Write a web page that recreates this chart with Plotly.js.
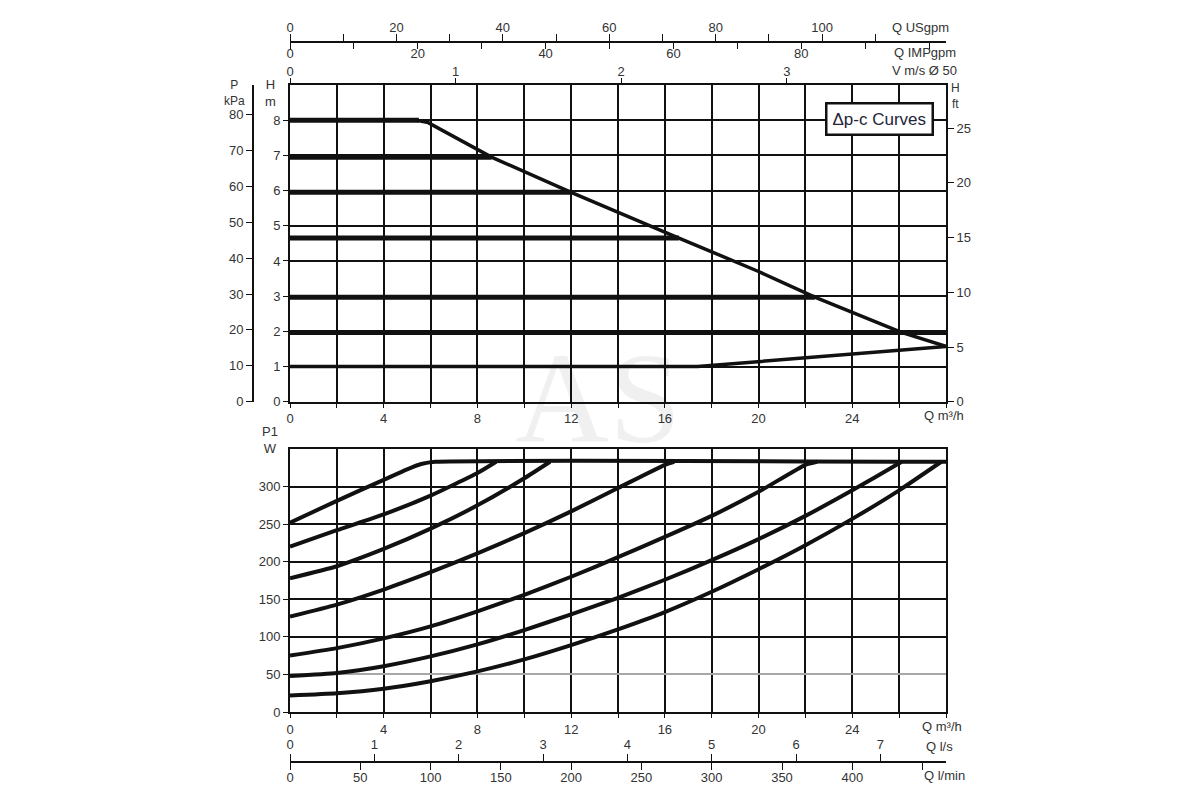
<!DOCTYPE html>
<html>
<head>
<meta charset="utf-8">
<script src="https://cdn.plot.ly/plotly-3.0.1.min.js"></script>
<style>
  body { margin: 0; background: #fff; }
  #chart { width: 1200px; height: 800px; }
</style>
</head>
<body>
<div id="chart"></div>
<script>
// Q axis (m3/h), shared by both panels
var Q_TICKS = [0, 2, 4, 6, 8, 10, 12, 14, 16, 18, 20, 22, 24, 26, 28];

// upper panel: constant delta-p lines (H m) and their end flow
var DP_LEVELS = [8.0, 6.95, 5.95, 4.65, 2.97, 1.97];
var DP_END_Q = [5.5, 8.6, 12.0, 16.6, 22.4, 28.0];
// max curve
var MAX_Q = [5.4, 5.9, 8.6, 12.0, 16.6, 20.0, 22.4, 26.1, 28.0];
var MAX_H = [8.0, 7.93, 6.95, 5.95, 4.65, 3.7, 2.97, 1.97, 1.57];
// min curve
var MIN_Q = [0, 17.4, 28.0];
var MIN_H = [1.0, 1.0, 1.57];

// lower panel: power input P1 (W)
var P1_Q = [
  [0, 2, 4, 5, 5.6, 6.2, 28],
  [0, 2, 4, 6, 8, 8.8],
  [0, 2, 4, 6, 8, 10, 11.1],
  [0, 2, 4, 6, 8, 10, 12, 14, 16, 16.4],
  [0, 2, 4, 6, 8, 10, 12, 14, 16, 18, 20, 22, 22.5],
  [0, 2, 4, 6, 8, 10, 12, 14, 16, 18, 20, 22, 24, 26, 26.1],
  [0, 2, 4, 6, 8, 10, 12, 14, 16, 18, 20, 22, 24, 26, 27.8]
];
var P1_W = [
  [252, 281, 309, 323, 330, 333, 333],
  [220, 242, 263, 288, 318, 333],
  [178, 194, 217, 244, 275, 311, 333],
  [127, 143, 163, 186, 211, 238, 267, 298, 329, 333],
  [75, 85, 98, 114, 134, 156, 180, 206, 233, 261, 293, 329, 333],
  [48, 52, 61, 74, 90, 109, 130, 152, 176, 202, 230, 261, 295, 331, 333],
  [22, 25, 31, 41, 54, 70, 89, 110, 133, 160, 190, 222, 257, 295, 333]
];

// unit scales
var USGPM = [0, 20, 40, 60, 80, 100];
var USGPM_MINOR = [10, 30, 50, 70, 90, 110];
var IMPGPM = [0, 20, 40, 60, 80];
var IMPGPM_MINOR = [10, 30, 50, 70, 90, 100];
var VEL = [0, 1, 2, 3];
var KPA = [0, 10, 20, 30, 40, 50, 60, 70, 80];
var FT = [0, 5, 10, 15, 20, 25];
var H_M = [0, 1, 2, 3, 4, 5, 6, 7, 8];
var P1_TICKS = [0, 50, 100, 150, 200, 250, 300];
var LPS = [0, 1, 2, 3, 4, 5, 6, 7];
var LPM = [0, 50, 100, 150, 200, 250, 300, 350, 400, 450];

var Q_MAX = 28;
var M3H_TO_USGPM = 4.40287, M3H_TO_IMPGPM = 3.66615, M3H_TO_VEL = 1 / 7.0686;
var M3H_TO_LPS = 1 / 3.6, M3H_TO_LPM = 1000 / 60;

// pixel -> paper helpers (margins l=200 r=200 t=20 b=15)
function fx(p) { return (p - 200) / 800; }
function fy(p) { return (785 - p) / 765; }

var INK = '#111';
var TXT = '#333';
var FONT = 'Liberation Sans, Arial, sans-serif';

var traces = [];
DP_LEVELS.forEach(function (h, i) {
  traces.push({ x: [0, DP_END_Q[i]], y: [h, h], mode: 'lines', xaxis: 'x', yaxis: 'y',
    line: { color: INK, width: 5 } });
});
traces.push({ x: MAX_Q, y: MAX_H, mode: 'lines', xaxis: 'x', yaxis: 'y', line: { color: INK, width: 3.5 } });
traces.push({ x: MIN_Q, y: MIN_H, mode: 'lines', xaxis: 'x', yaxis: 'y', line: { color: INK, width: 3.5 } });
P1_Q.forEach(function (q, i) {
  traces.push({ x: q, y: P1_W[i], mode: 'lines', xaxis: 'x2', yaxis: 'y2',
    line: { color: INK, width: 4, shape: 'spline', smoothing: 0.5 } });
});

// invisible copies so the extra unit scales get drawn
function ghost(xa, ya, xs, ys) {
  traces.push({ x: xs, y: ys, mode: 'lines', xaxis: xa, yaxis: ya, opacity: 0,
    line: { width: 0 }, hoverinfo: 'skip' });
}
function scaled(arr, k) { return arr.map(function (v) { return v * k; }); }
ghost('x3', 'y', scaled(MAX_Q, M3H_TO_VEL), MAX_H);
ghost('x4', 'y', scaled(MAX_Q, M3H_TO_USGPM), MAX_H);
ghost('x5', 'y', scaled(MAX_Q, M3H_TO_IMPGPM), MAX_H);
ghost('x', 'y3', MAX_Q, scaled(MAX_H, 9.80665));
ghost('x', 'y4', MAX_Q, scaled(MAX_H, 1 / 0.3048));
ghost('x2', 'y5', P1_Q[0], P1_W[0]);
ghost('x2', 'y6', P1_Q[0], P1_W[0]);
ghost('x6', 'y2', scaled(P1_Q[0], M3H_TO_LPS), P1_W[0]);
ghost('x7', 'y2', scaled(P1_Q[0], M3H_TO_LPM), P1_W[0]);

var qText = Q_TICKS.map(function (v) { return (v % 4 === 0 && v < 28) ? String(v) : ''; });
var tickFont = { family: FONT, size: 13, color: TXT };
var XDOM = [fx(290), fx(946)];

function baseX(extra) {
  var a = { domain: XDOM, range: [0, Q_MAX], tickmode: 'array', tickvals: Q_TICKS, ticktext: qText,
    showgrid: true, gridcolor: INK, gridwidth: 2, zeroline: false, showline: true, mirror: true,
    linecolor: INK, linewidth: 2, ticks: 'outside', ticklen: 4, tickcolor: INK, tickfont: tickFont,
    fixedrange: true };
  for (var k in extra) a[k] = extra[k];
  return a;
}
function scaleAxis(extra) {
  var a = { showgrid: false, zeroline: false, showline: true, linecolor: INK, linewidth: 2,
    ticks: 'outside', ticklen: 6, tickcolor: INK, tickmode: 'array', tickfont: tickFont, fixedrange: true };
  for (var k in extra) a[k] = extra[k];
  return a;
}

var layout = {
  width: 1200, height: 800,
  margin: { l: 200, r: 200, t: 20, b: 15 },
  paper_bgcolor: '#fff', plot_bgcolor: '#fff',
  showlegend: false, hovermode: false,
  font: { family: FONT, color: TXT },
  xaxis: baseX({ anchor: 'y' }),
  yaxis: { domain: [fy(401.7), fy(85)], anchor: 'x', range: [0, 9], tickmode: 'array', tickvals: H_M,
    showgrid: true, gridcolor: INK, gridwidth: 2, zeroline: false, showline: true, mirror: true,
    linecolor: INK, linewidth: 2, ticks: 'outside', ticklen: 5, tickcolor: INK, tickfont: tickFont, fixedrange: true },
  xaxis2: baseX({ anchor: 'y2' }),
  yaxis2: { domain: [fy(712), fy(449)], anchor: 'x2', range: [0, 350], tickmode: 'array', tickvals: P1_TICKS,
    showgrid: false, zeroline: false, showline: true, mirror: true, linecolor: INK, linewidth: 2,
    ticks: 'outside', ticklen: 5, tickcolor: INK, tickfont: tickFont, fixedrange: true },
  // grid of lower panel (black) and the grey 50 W line
  yaxis5: { overlaying: 'y2', anchor: 'x2', range: [0, 350], tickmode: 'array', tickvals: [100, 150, 200, 250, 300],
    showgrid: true, gridcolor: INK, gridwidth: 2, showticklabels: false, ticks: '', zeroline: false, showline: false,
    fixedrange: true },
  yaxis6: { overlaying: 'y2', anchor: 'x2', range: [0, 350], tickmode: 'array', tickvals: [50],
    showgrid: true, gridcolor: '#a8a8a8', gridwidth: 2, showticklabels: false, ticks: '', zeroline: false,
    showline: false, fixedrange: true },
  // kPa on the left
  yaxis3: scaleAxis({ overlaying: 'y', anchor: 'free', position: fx(253), side: 'left',
    range: [0, 9 * 9.80665], tickvals: KPA }),
  // ft on the right
  yaxis4: scaleAxis({ overlaying: 'y', anchor: 'x', side: 'right', range: [0, 28.95], tickvals: FT }),
  // velocity on top border
  xaxis3: scaleAxis({ overlaying: 'x', anchor: 'y', side: 'top', range: [0, Q_MAX * M3H_TO_VEL],
    tickvals: VEL, ticklen: 5, ticklabelstandoff: -3 }),
  // USgpm / IMPgpm double scale
  xaxis4: scaleAxis({ overlaying: 'x', anchor: 'free', position: fy(42), side: 'top',
    range: [0, Q_MAX * M3H_TO_USGPM], tickvals: USGPM, ticklen: 7, ticklabelstandoff: -3,
    minor: { tickmode: 'array', tickvals: USGPM_MINOR, ticks: 'outside', ticklen: 7, tickcolor: INK } }),
  xaxis5: scaleAxis({ overlaying: 'x', anchor: 'free', position: fy(42), side: 'bottom',
    range: [0, Q_MAX * M3H_TO_IMPGPM], tickvals: IMPGPM, ticklen: 6, ticklabelstandoff: -7,
    minor: { tickmode: 'array', tickvals: IMPGPM_MINOR, ticks: 'outside', ticklen: 6, tickcolor: INK } }),
  // l/s and l/min double scale
  xaxis6: scaleAxis({ overlaying: 'x2', anchor: 'free', position: fy(762), side: 'top',
    range: [0, Q_MAX * M3H_TO_LPS], tickvals: LPS, ticklen: 7 }),
  xaxis7: scaleAxis({ overlaying: 'x2', anchor: 'free', position: fy(762), side: 'bottom',
    range: [0, Q_MAX * M3H_TO_LPM], tickvals: LPM, ticklabelstandoff: -4,
    ticktext: LPM.map(function (v) { return v === 450 ? '' : String(v); }), ticklen: 7 }),
  annotations: []
};

function label(text, x, y, anchor, size) {
  layout.annotations.push({ text: text, x: fx(x), y: fy(y), xref: 'paper', yref: 'paper',
    xanchor: anchor || 'center', yanchor: 'middle', showarrow: false,
    font: { family: FONT, size: size || 13, color: TXT } });
}
label('P<br>kPa', 234, 93, 'center', 12);
label('H<br>m', 270, 93, 'center', 13);
label('H<br>ft', 955, 96, 'center', 12);
label('P1<br>W', 270, 440, 'center', 13);
label('Q m³/h', 922, 416, 'left', 13);
label('Q m³/h', 920, 726, 'left', 13);
label('Q USgpm', 890, 28, 'left', 13);
label('Q IMPgpm', 892, 53, 'left', 13);
label('V m/s Ø 50', 890, 71, 'left', 13);
label('Q l/s', 924, 746, 'left', 13);
label('Q l/min', 922, 775, 'left', 13);

layout.annotations.push({ text: 'Δp-c Curves', x: fx(879), y: fy(119), xref: 'paper', yref: 'paper',
  xanchor: 'center', yanchor: 'middle',
  showarrow: false, bgcolor: '#fff', bordercolor: INK, borderwidth: 2.5, borderpad: 5,
  font: { family: 'Liberation Sans Narrow, Liberation Sans, Arial', size: 17, color: '#24243a' } });
layout.annotations.push({ text: 'AS', x: fx(598), y: fy(398), xref: 'paper', yref: 'paper',
  xanchor: 'center', yanchor: 'middle',
  showarrow: false, font: { family: 'Liberation Serif, DejaVu Serif, serif', size: 130, color: 'rgba(0,0,0,0.06)' } });

Plotly.newPlot('chart', traces, layout, { staticPlot: true, displayModeBar: false });
</script>
</body>
</html>
